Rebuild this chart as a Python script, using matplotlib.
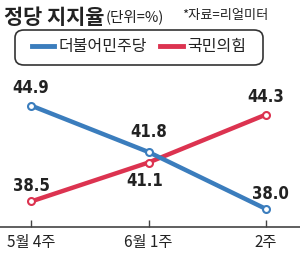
import matplotlib.pyplot as plt
from matplotlib.lines import Line2D
from matplotlib.patches import FancyBboxPatch

plt.rcParams['font.family'] = ['Noto Sans CJK KR', 'DejaVu Sans']

# data
weeks = ['5월 4주', '6월 1주', '2주']
democratic = [44.9, 41.8, 38.0]
ppp = [38.5, 41.1, 44.3]

blue = '#3b7dbd'
red = '#dc3350'

fig = plt.figure(figsize=(3.0, 2.6), dpi=100)
ax = fig.add_axes([0, 0.127, 1, 0.565])

x = range(len(weeks))
ax.plot(x, ppp, color=red, lw=3.2, marker='o', ms=5, mfc='white', mec=red, mew=1.5, zorder=3)
ax.plot(x, democratic, color=blue, lw=3.2, marker='o', ms=5, mfc='white', mec=blue, mew=1.5, zorder=4)

num_font = dict(family='DejaVu Sans', fontstretch='condensed', fontsize=12,
                fontweight='bold', color='#222222')
# value labels
ax.annotate('44.9', (0, democratic[0]), xytext=(0, 6), textcoords='offset points', ha='center', va='bottom', **num_font)
ax.annotate('41.8', (1, democratic[1]), xytext=(0, 8), textcoords='offset points', ha='center', va='bottom', **num_font)
ax.annotate('38.0', (2, democratic[2]), xytext=(3, 4), textcoords='offset points', ha='center', va='bottom', **num_font)
ax.annotate('38.5', (0, ppp[0]), xytext=(0, 5), textcoords='offset points', ha='center', va='bottom', **num_font)
ax.annotate('41.1', (1, ppp[1]), xytext=(-3, -7), textcoords='offset points', ha='center', va='top', **num_font)
ax.annotate('44.3', (2, ppp[2]), xytext=(0, 6), textcoords='offset points', ha='center', va='bottom', **num_font)

ax.set_xlim(-0.264, 2.289)
ax.set_ylim(36.8, 46.6)
ax.set_xticks(list(x))
ax.set_xticklabels(weeks, fontsize=11, color='#222222')
ax.tick_params(axis='x', length=5, width=1, color='#444444', pad=5, direction='in')
ax.set_yticks([])
for s in ['top', 'left', 'right']:
    ax.spines[s].set_visible(False)
ax.spines['bottom'].set_color('#444444')
ax.spines['bottom'].set_linewidth(1.2)
ax.patch.set_alpha(0)

# title
fig.text(4 / 300, 1 - 17 / 260, '정당 지지율', fontsize=15, fontweight='bold', color='#222222', va='center')
fig.text(106 / 300, 1 - 17 / 260, '(단위=%)', fontsize=10.5, color='#222222', va='center')
fig.text(182 / 300, 1 - 16 / 260, '*자료=리얼미터', fontsize=9.5, color='#222222', va='center')

# legend box
box = FancyBboxPatch((15 / 300, 1 - 65 / 260), 248 / 300, 35 / 260,
                     boxstyle='round,pad=0,rounding_size=0.03', transform=fig.transFigure,
                     fill=False, edgecolor='#333333', lw=1.2)
fig.patches.append(box)
handles = [Line2D([], [], color=blue, lw=3.5), Line2D([], [], color=red, lw=3.5)]
fig.legend(handles, ['더불어민주당', '국민의힘'], ncol=2, loc='center',
           bbox_to_anchor=(139 / 300, 1 - 47 / 260), frameon=False, fontsize=11.5,
           handlelength=1.4, handletextpad=0.3, columnspacing=0.8, labelcolor='#222222')

fig.savefig('out.png', dpi=100)
